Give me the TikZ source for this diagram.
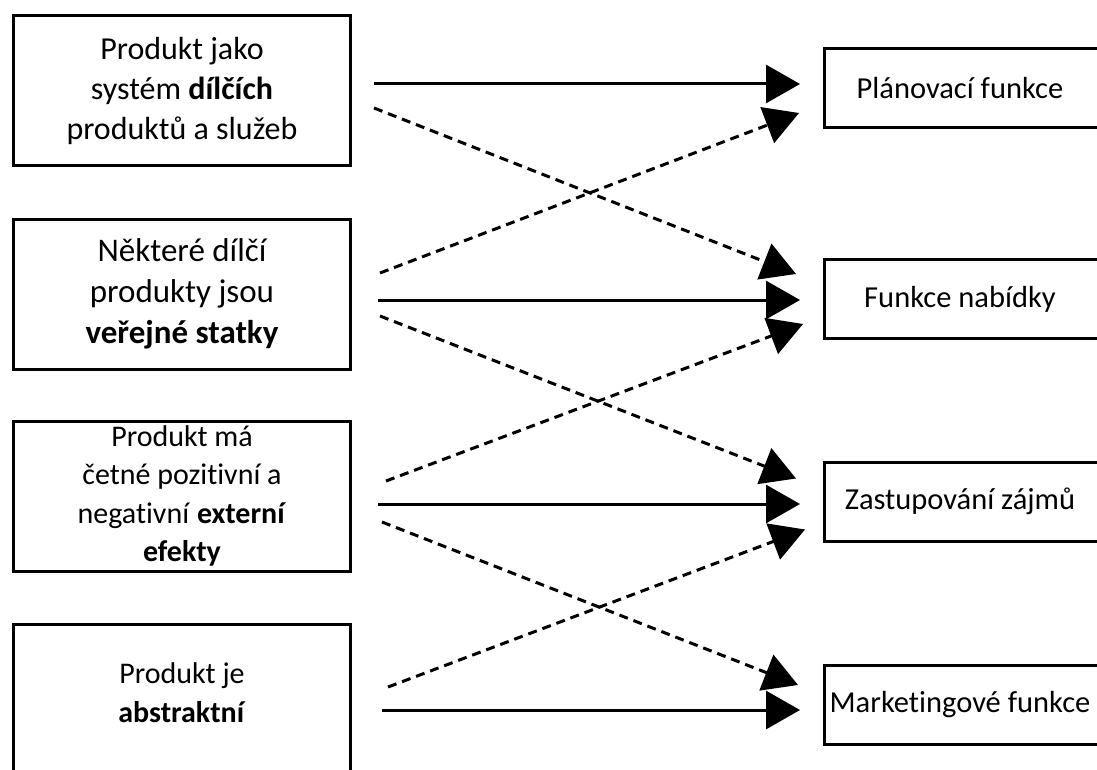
\documentclass[tikz,border=0pt]{standalone}
\usepackage{fontspec}
\setmainfont{Carlito}[Ligatures=NoCommon]
\usetikzlibrary{arrows.meta}

\tikzset{
  leftbox/.style={draw, line width=3pt, minimum width=337pt, minimum height=150pt, align=center, font=\fontsize{32}{40}\selectfont},
  rightbox/.style={draw, line width=3pt, minimum width=300pt, minimum height=79pt, font=\fontsize{30.5}{40}\selectfont},
  solidarrow/.style={line width=3pt, -{Triangle[length=34pt,width=38pt]}},
  dasharrow/.style={solidarrow, dash pattern=on 9pt off 6pt},
}
% text of the right boxes sits left of the box centre
\newcommand{\rtext}[1]{#1\hspace*{29pt}}

\begin{document}
\begin{tikzpicture}[x=1pt, y=-1pt]
	\useasboundingbox (0,0) rectangle (1097,770);
	
	% left column
	\node[leftbox] (l1) at (182,90.5) {Produkt jako\\systém \textbf{dílčích}\\produktů a služeb};
	\node[leftbox, font=\fontsize{33}{41}\selectfont] (l2) at (182,294) {Některé dílčí\\produkty jsou\\\textbf{veřejné statky}};
	\node[leftbox, font=\fontsize{30}{38.5}\selectfont] (l3) at (182,496) {Produkt má\\četné pozitivní a\\negativní \textbf{externí}\\\textbf{efekty}};
	\node[leftbox, font=\fontsize{30}{39}\selectfont] (l4) at (182,699.5) {Produkt je\\\textbf{abstraktní}\\[-26pt]\mbox{}};
	
	% right column
	\node[rightbox] (r1) at (974.5,88) {\rtext{Plánovací funkce}};
	\node[rightbox] (r2) at (974.5,299) {\rtext{Funkce nabídky}};
	\node[rightbox] (r3) at (974.5,501.5) {\rtext{Zastupování zájmů}};
	\node[rightbox] (r4) at (974.5,705) {\rtext{Marketingové funkce}};
	
	% starting points
	\coordinate (a1) at (374,84);
	\coordinate (a2) at (378,300);
	\coordinate (a3) at (378,504);
	\coordinate (a4) at (382,710);
	\coordinate (b1) at (374,108);
	\coordinate (b2) at (380,316);
	\coordinate (b3) at (382,522);
	\coordinate (c2) at (380,273);
	\coordinate (c3) at (386,481);
	\coordinate (c4) at (388,687);
	
	% solid arrows
	\draw[solidarrow, shorten >=23pt] (a1) -- (a1 -| r1.west);
	\draw[solidarrow, shorten >=23pt] (a2) -- (a2 -| r2.west);
	\draw[solidarrow, shorten >=23pt] (a3) -- (a3 -| r3.west);
	\draw[solidarrow, shorten >=23pt] (a4) -- (a4 -| r4.west);
	
	% dashed arrows down
	\draw[dasharrow] (b1) -- ([xshift=-27pt, yshift=-16pt]r2.north west);
	\draw[dasharrow] (b2) -- ([xshift=-27pt, yshift=-18pt]r3.north west);
	\draw[dasharrow] (b3) -- ([xshift=-25pt, yshift=-21pt]r4.north west);
	
	% dashed arrows up
	\draw[dasharrow] (c2) -- ([xshift=-24pt, yshift=16pt]r1.south west);
	\draw[dasharrow] (c3) -- ([xshift=-20pt, yshift=16pt]r2.south west);
	\draw[dasharrow] (c4) -- ([xshift=-18pt, yshift=13pt]r3.south west);
\end{tikzpicture}
\end{document}
